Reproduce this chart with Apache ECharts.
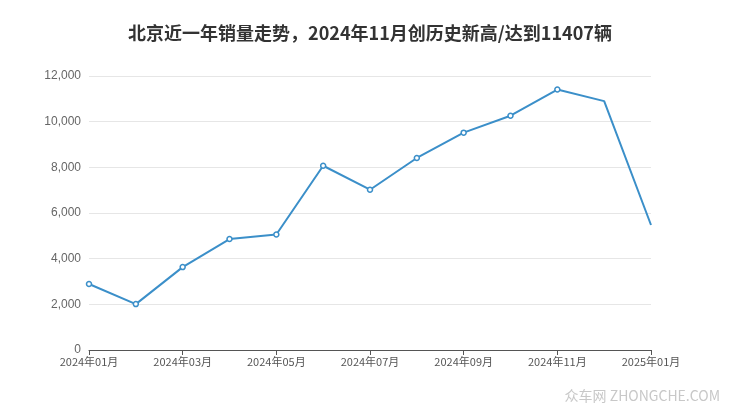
<!DOCTYPE html>
<html>
<head>
<meta charset="utf-8">
<script src="https://cdn.jsdelivr.net/npm/echarts@6/dist/echarts.min.js"></script>
<style>
html,body{margin:0;padding:0;background:#fff;}
#c{width:740px;height:417px;}
</style>
</head>
<body>
<div id="c"></div>
<script>
var titleText = '北京近一年销量走势，2024年11月创历史新高/达到11407辆';
var months = ['2024年01月','2024年02月','2024年03月','2024年04月','2024年05月','2024年06月','2024年07月','2024年08月','2024年09月','2024年10月','2024年11月','2024年12月','2025年01月'];
var sales = [2890, 2010, 3630, 4860, 5060, 8070, 7020, 8410, 9520, 10260, 11407, 10900, 5475];
var noSymbolFrom = 11;
var watermark = '众车网 ZHONGCHE.COM';

var chart = echarts.init(document.getElementById('c'));
var seriesData = sales.map(function(v, i){
  return i >= noSymbolFrom ? {value: v, symbol: 'none'} : v;
});
chart.setOption({
  animation: false,
  backgroundColor: '#fff',
  title: {
    text: titleText, left: 'center', top: 19,
    textStyle: {fontSize: 18, fontWeight: 'bold', color: '#333', fontFamily: 'Noto Sans CJK SC'}
  },
  graphic: [{
    type: 'text', right: 20, top: 389,
    style: {text: watermark, fontSize: 14, fill: '#c8c8c8', fontFamily: 'Noto Sans CJK SC'}
  }],
  grid: {left: 89, right: 89, top: 76, bottom: 67},
  xAxis: {
    type: 'category', data: months, boundaryGap: false,
    axisLine: {lineStyle: {color: '#555'}},
    axisTick: {interval: 1, lineStyle: {color: '#555'}},
    axisLabel: {interval: 1, color: '#555', fontSize: 11, margin: 6, fontFamily: 'Noto Sans CJK SC'}
  },
  yAxis: {
    type: 'value', min: 0, max: 12000, interval: 2000,
    axisLine: {show: false}, axisTick: {show: false},
    splitLine: {lineStyle: {color: '#e6e6e6'}},
    axisLabel: {color: '#666', fontSize: 12, margin: 8, formatter: function(v){ return v.toLocaleString('en-US'); }}
  },
  series: [{
    type: 'line', data: seriesData,
    symbol: 'circle', symbolSize: 5, showAllSymbol: true,
    lineStyle: {color: '#3b8fc9', width: 2},
    itemStyle: {color: '#fff', borderColor: '#3b8fc9', borderWidth: 1.5}
  }]
});
</script>
</body>
</html>
